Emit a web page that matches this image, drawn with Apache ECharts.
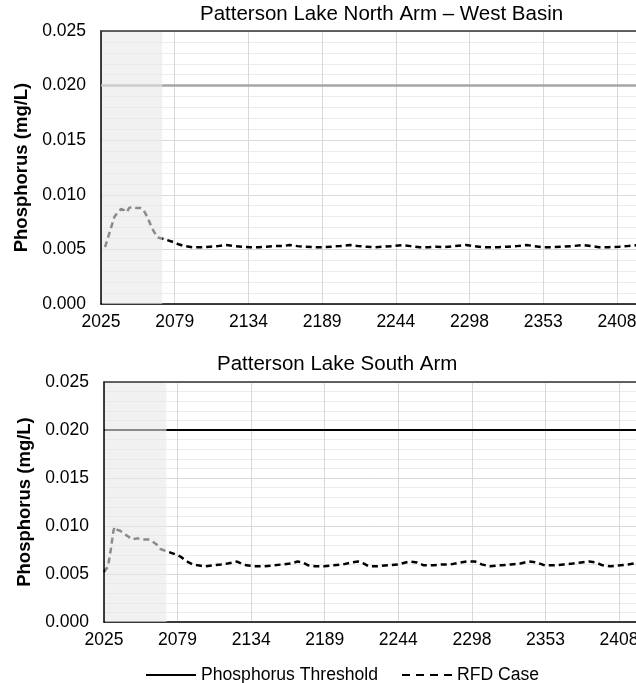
<!DOCTYPE html>
<html>
<head>
<meta charset="utf-8">
<script src="https://cdn.jsdelivr.net/npm/echarts@6/dist/echarts.min.js"></script>
<style>
  html, body { margin: 0; padding: 0; background: #fff; }
  #chart { width: 636px; height: 683px; }
</style>
</head>
<body>
<div id="chart"></div>
<script>
// x ticks every 20000 days (~54.75 yr) starting at 2025
const startYear = 2025;
const tickStep = 54.75;
const yTicks = [0, 0.025, 0.005];

const thresholdYears = [2025, 2435];
const thresholdValues = [0.02, 0.02];

// Patterson Lake North Arm – West Basin
const northYears = [2028, 2032, 2035, 2038, 2040, 2042, 2044, 2046, 2048, 2051, 2054, 2056, 2058, 2060, 2062, 2064,
  2067, 2070, 2073, 2078, 2082, 2087, 2093, 2100, 2106, 2112, 2118, 2124, 2130, 2136, 2142, 2148, 2154, 2160,
  2165, 2171, 2177, 2183, 2190, 2196, 2202, 2210, 2216, 2222, 2228, 2235, 2242, 2249, 2255, 2262, 2268, 2274,
  2280, 2287, 2296, 2302, 2308, 2314, 2320, 2327, 2334, 2341, 2347, 2353, 2360, 2367, 2375, 2383, 2389, 2395,
  2402, 2410, 2416, 2425, 2432];
const northValues = [0.0052, 0.0068, 0.0080, 0.0085, 0.0087, 0.0086, 0.0084, 0.0088, 0.0089, 0.0088, 0.0088, 0.0087, 0.0083, 0.0078, 0.0072, 0.0067,
  0.0061, 0.0060, 0.0059, 0.0057, 0.0055, 0.0053, 0.0052, 0.0052, 0.00525, 0.0053, 0.0054, 0.0053, 0.00525, 0.0052, 0.0052, 0.00525, 0.0053, 0.0053,
  0.0054, 0.0053, 0.00525, 0.0052, 0.0052, 0.00525, 0.0053, 0.0054, 0.0053, 0.00525, 0.0052, 0.00525, 0.0053, 0.0054, 0.0053, 0.0052, 0.0052, 0.00525,
  0.0052, 0.0053, 0.0054, 0.0053, 0.0052, 0.0052, 0.0052, 0.00525, 0.0053, 0.0054, 0.0053, 0.0052, 0.0052, 0.00525, 0.0053, 0.0054, 0.0053, 0.0052,
  0.0052, 0.00525, 0.0053, 0.0054, 0.0053];

// Patterson Lake South Arm
const southYears = [2025, 2028, 2030, 2032, 2033, 2035, 2037, 2040, 2043, 2046, 2049, 2052, 2055, 2058, 2061, 2064,
  2067, 2071, 2075, 2079, 2082, 2085, 2088, 2091, 2095, 2100, 2106, 2112, 2117, 2121, 2124, 2127, 2131, 2137,
  2144, 2151, 2158, 2164, 2169, 2173, 2177, 2182, 2189, 2196, 2203, 2209, 2214, 2218, 2222, 2228, 2236, 2244,
  2252, 2258, 2263, 2270, 2277, 2283, 2290, 2295, 2301, 2306, 2312, 2320, 2328, 2335, 2341, 2347, 2353, 2360,
  2367, 2374, 2380, 2386, 2391, 2396, 2402, 2409, 2415, 2420, 2425, 2432];
const southValues = [0.0052, 0.0058, 0.0075, 0.0095, 0.0099, 0.0096, 0.0095, 0.0092, 0.0089, 0.0086, 0.0087, 0.0087, 0.0086, 0.0086, 0.0084, 0.0081,
  0.0076, 0.0074, 0.0072, 0.0070, 0.0068, 0.0065, 0.0062, 0.0060, 0.0059, 0.0058, 0.0059, 0.0060, 0.0061, 0.0062, 0.0063, 0.0061, 0.0059, 0.0058,
  0.0058, 0.0059, 0.0060, 0.0061, 0.0063, 0.0062, 0.0059, 0.0058, 0.0058, 0.0059, 0.0060, 0.0062, 0.0063, 0.0061, 0.0058, 0.0058, 0.0059, 0.0060,
  0.0063, 0.0062, 0.0059, 0.0059, 0.0060, 0.0060, 0.0062, 0.0063, 0.0063, 0.0060, 0.0058, 0.0059, 0.0060, 0.0061, 0.0063, 0.0062, 0.0059, 0.0059,
  0.0060, 0.0061, 0.0062, 0.0063, 0.0062, 0.0059, 0.0058, 0.0059, 0.0060, 0.0061, 0.0062, 0.0061];

// grey "spin-up" band at the start of each run
const northShade = [2025.8, 2070.5];
const southShade = [2025.8, 2071.5];

const font = 'Liberation Sans, Arial, sans-serif';
const pairs = (xs, ys) => xs.map((x, i) => [x - startYear, ys[i]]);

function xAxes(grid) {
  return [
    {
      type: 'value', gridIndex: grid, min: 0, max: 410, interval: tickStep,
      axisLine: { lineStyle: { color: '#000', width: 1.5 } },
      axisTick: { show: false },
      axisLabel: { color: '#000', fontSize: 17.5, fontFamily: font, margin: 9,
        formatter: v => String(Math.floor(startYear + v)) },
      splitLine: { show: true, lineStyle: { color: '#d9d9d9', width: 1 } }
    },
    {
      type: 'value', gridIndex: grid, position: 'top', min: 0, max: 410,
      axisLine: { show: true, lineStyle: { color: '#333', width: 1.5 } },
      axisTick: { show: false }, axisLabel: { show: false }, splitLine: { show: false }
    }
  ];
}

function yAxis(grid) {
  return {
    type: 'value', gridIndex: grid, min: yTicks[0], max: yTicks[1], interval: yTicks[2],
    name: 'Phosphorus (mg/L)', nameLocation: 'middle', nameGap: 70,
    nameTextStyle: { color: '#000', fontSize: 18.5, fontWeight: 'bold', fontFamily: font },
    axisLine: { show: true, lineStyle: { color: '#000', width: 1.5 } },
    axisTick: { show: false },
    axisLabel: { color: '#000', fontSize: 17.5, fontFamily: font, margin: 15,
      formatter: v => v.toFixed(3) },
    splitLine: { lineStyle: { color: '#d9d9d9', width: 1 } },
    minorTick: { show: false, splitNumber: 5 },
    minorSplitLine: { show: true, lineStyle: { color: '#ececec', width: 1 } }
  };
}

// translucent band drawn over the lines, so they look greyed inside it
function shade(x, y, band) {
  return {
    name: 'shade', type: 'custom', xAxisIndex: x, yAxisIndex: y, z: 10, silent: true,
    data: [[band[0] - startYear, band[1] - startYear]],
    renderItem: (params, api) => {
      const p0 = api.coord([api.value(0), yTicks[1]]);
      const p1 = api.coord([api.value(1), yTicks[0]]);
      return {
        type: 'rect',
        shape: { x: p0[0], y: p0[1] + 1, width: p1[0] - p0[0], height: p1[1] - p0[1] - 1 },
        style: { fill: 'rgba(232,232,232,0.6)' }
      };
    }
  };
}

const dash = { type: [6, 4], width: 2.5, color: '#000' };
const lineBase = { type: 'line', showSymbol: false, symbol: 'none', itemStyle: { color: '#000' } };
const titleStyle = { fontSize: 20.5, fontWeight: 'normal', color: '#000', fontFamily: font };

const chart = echarts.init(document.getElementById('chart'));
chart.setOption({
  animation: false,
  title: [
    { text: 'Patterson Lake North Arm – West Basin', left: 200, top: 4, padding: 0, textStyle: titleStyle },
    { text: 'Patterson Lake South Arm', left: 217, top: 354, padding: 0, textStyle: titleStyle }
  ],
  legend: {
    data: [
      { name: 'Phosphorus Threshold', lineStyle: { type: 'solid', width: 2, color: '#000' } },
      { name: 'RFD Case', lineStyle: { type: [8, 6], width: 2, color: '#000' } }
    ],
    left: 145, top: 666, padding: 0, itemWidth: 50, itemHeight: 14, itemGap: 23,
    itemStyle: { opacity: 0 },
    textStyle: { fontSize: 17.6, color: '#000', fontFamily: font }
  },
  grid: [
    { left: 101, top: 31, width: 552, height: 273, outerBoundsMode: 'none' },
    { left: 104, top: 382, width: 551, height: 240, outerBoundsMode: 'none' }
  ],
  xAxis: [...xAxes(0), ...xAxes(1)],
  yAxis: [yAxis(0), yAxis(1)],
  series: [
    { ...lineBase, name: 'Phosphorus Threshold', xAxisIndex: 2, yAxisIndex: 1,
      data: pairs(thresholdYears, thresholdValues), lineStyle: { color: '#000', width: 2 } },
    { ...lineBase, name: 'RFD Case', xAxisIndex: 2, yAxisIndex: 1,
      data: pairs(southYears, southValues), lineStyle: dash },
    { ...lineBase, name: 'Phosphorus Threshold', xAxisIndex: 0, yAxisIndex: 0,
      data: pairs(thresholdYears, thresholdValues), lineStyle: { color: '#a6a6a6', width: 2.5 } },
    { ...lineBase, name: 'RFD Case', xAxisIndex: 0, yAxisIndex: 0,
      data: pairs(northYears, northValues), lineStyle: dash },
    shade(0, 0, northShade),
    shade(2, 1, southShade)
  ]
});
</script>
</body>
</html>
